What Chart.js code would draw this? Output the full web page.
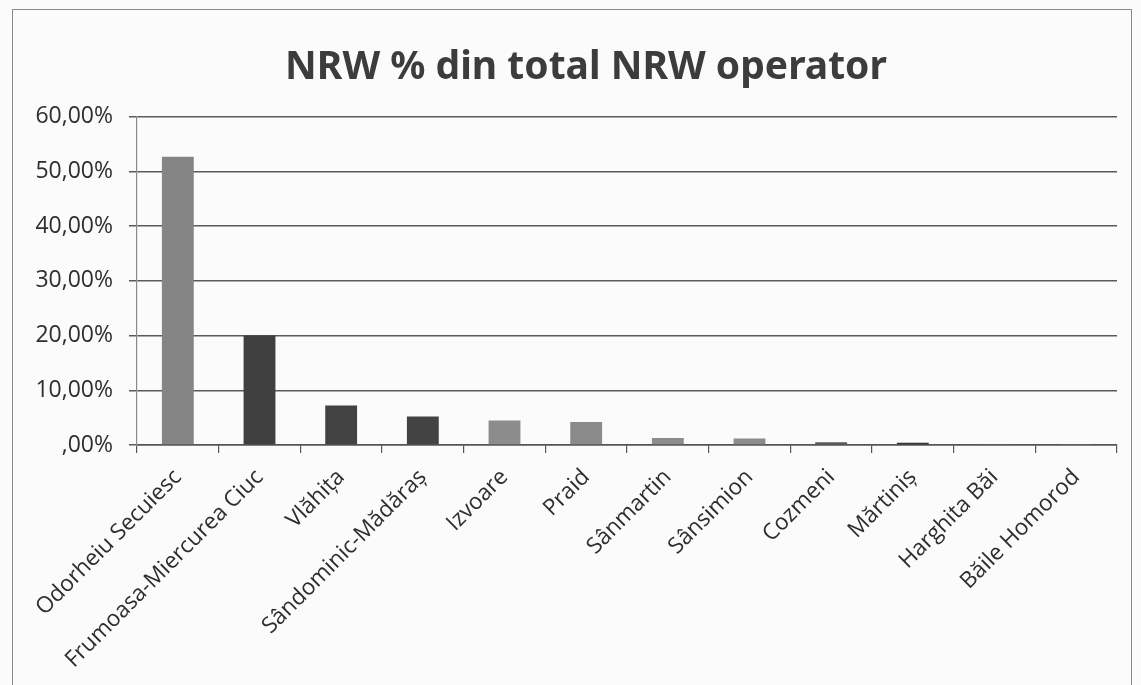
<!DOCTYPE html>
<html>
<head>
<meta charset="utf-8">
<script src="https://cdn.jsdelivr.net/npm/chart.js@4/dist/chart.umd.min.js"></script>
<style>
    html, body { margin: 0; padding: 0; background: #fbfbfb; }
    body { width: 1141px; height: 685px; overflow: hidden; position: relative; }
    #frame {
        position: absolute; left: 12px; top: 9px;
        width: 1120px; height: 700px;
        border: 1px solid #8a8a8a; box-sizing: border-box;
    }
    #wrap { position: absolute; left: 13px; top: 10px; width: 1150px; height: 675px; }
</style>
</head>
<body>
<div id="frame"></div>
<div id="wrap"><canvas id="chart" width="1150" height="675"></canvas></div>
<script>
// Categories and values
const categories = [
    'Odorheiu Secuiesc', 'Frumoasa-Miercurea Ciuc', 'Vlăhița', 'Sândominic-Mădăraș',
    'Izvoare', 'Praid', 'Sânmartin', 'Sânsimion', 'Cozmeni', 'Mărtiniș',
    'Harghita Băi', 'Băile Homorod'
];
const nrwShare = [52.7, 20.0, 7.2, 5.2, 4.5, 4.2, 1.3, 1.2, 0.5, 0.4, 0.2, 0.1];
const barColors = [
    '#858585', '#3f3f3f', '#424242', '#434343', '#8c8c8c', '#8a8a8a',
    '#8c8c8c', '#8c8c8c', '#5a5a5a', '#333333', '#7a7a7a', '#8e8e8e'
];
const yTicks = [0, 10, 20, 30, 40, 50, 60];

const fontFamily = '"Open Sans", "Liberation Sans", sans-serif';
const titleFamily = '"Noto Sans", "Open Sans", sans-serif';

// Format like Excel's Romanian percent labels: ",00%" for zero
function pctLabel(v) {
    if (v === 0) return ',00%';
    return v.toFixed(2).replace('.', ',') + '%';
}

const ctx = document.getElementById('chart').getContext('2d');
new Chart(ctx, {
    type: 'bar',
    data: {
        labels: categories,
        datasets: [{
            data: nrwShare,
            backgroundColor: barColors,
            borderWidth: 0,
            barPercentage: 0.39,
            categoryPercentage: 1,
            yAxisID: 'y'
        }]
    },
    options: {
        responsive: false,
        animation: false,
        devicePixelRatio: 1,
        layout: { padding: { left: 0, right: 4, top: 0, bottom: 0 } },
        plugins: {
            legend: { display: false },
            tooltip: { enabled: false },
            title: {
                display: true,
                text: 'NRW % din total NRW operator',
                color: '#3c3c3c',
                font: { family: titleFamily, size: 39, weight: 'bold' },
                padding: { top: 34, bottom: 26 }
            }
        },
        scales: {
            x: {
                grid: {
                    offset: true,
                    drawOnChartArea: false,
                    drawTicks: true,
                    tickLength: 8,
                    color: '#555555',
                    lineWidth: 1.2
                },
                border: { display: true, color: '#555555', width: 1.5 },
                ticks: {
                    autoSkip: false,
                    minRotation: 45,
                    maxRotation: 45,
                    padding: 11,
                    color: '#2e2e2e',
                    font: { family: fontFamily, size: 22.5 }
                },
                afterFit: scale => { scale.height = 240; }
            },
            y: {
                min: 0,
                max: 60,
                afterBuildTicks: scale => {
                    scale.ticks = yTicks.map(v => ({ value: v }));
                },
                grid: {
                    color: '#5a5a5a',
                    lineWidth: 1.5,
                    tickLength: 8
                },
                border: { display: true, color: '#8a8a8a', width: 1.2 },
                ticks: {
                    padding: 16,
                    color: '#2e2e2e',
                    font: { family: fontFamily, size: 23 },
                    callback: v => pctLabel(v)
                },
                afterFit: scale => { scale.width = 124; }
            },
            // empty spacer on the right so the centred title sits where the original has it
            spacer: {
                type: 'linear',
                position: 'right',
                grid: { display: false },
                border: { display: false },
                ticks: { display: false },
                afterFit: scale => { scale.width = 42; }
            }
        }
    }
});
</script>
</body>
</html>
